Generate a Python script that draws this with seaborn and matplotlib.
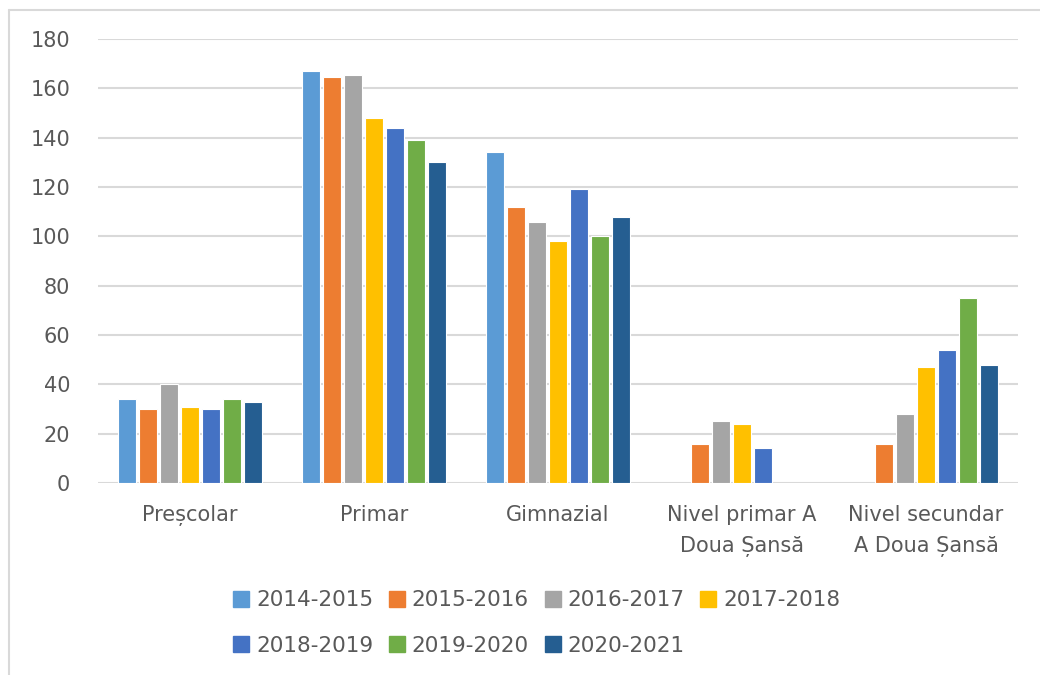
import pandas as pd
import numpy as np
import matplotlib
matplotlib.use('Agg')
import matplotlib.pyplot as plt
from matplotlib.lines import Line2D
import seaborn as sns

sns.set_theme(style='white')
plt.rcParams['font.family'] = ['DejaVu Sans']

categories = ['Preșcolar', 'Primar', 'Gimnazial',
              'Nivel primar A\nDoua Șansă', 'Nivel secundar\nA Doua Șansă']
years = ['2014-2015', '2015-2016', '2016-2017', '2017-2018',
         '2018-2019', '2019-2020', '2020-2021']

# values per school year, one entry per category (nan = no bar)
v_2014 = [34, 167, 134, np.nan, np.nan]
v_2015 = [30, 164.5, 112, 16, 16]
v_2016 = [40, 165.5, 106, 25, 28]
v_2017 = [31, 148, 98, 24, 47]
v_2018 = [30, 144, 119, 14, 54]
v_2019 = [34, 139, 100, np.nan, 75]
v_2020 = [33, 130, 108, np.nan, 48]

colors = ['#5B9BD5', '#ED7D31', '#A5A5A5', '#FFC000',
          '#4472C4', '#70AD47', '#255E91']

series = [v_2014, v_2015, v_2016, v_2017, v_2018, v_2019, v_2020]
rows = []
for yr, vals in zip(years, series):
    for cat, v in zip(categories, vals):
        rows.append({'categorie': cat, 'an': yr, 'valoare': v})
df = pd.DataFrame(rows)

fig = plt.figure(figsize=(10.4, 6.75), dpi=100)
ax = fig.add_axes([98 / 1040, 1 - 483 / 675, 920 / 1040, 444 / 675])

sns.barplot(data=df, x='categorie', y='valoare', hue='an', order=categories,
            hue_order=years, palette=colors, width=0.8, gap=0.18,
            edgecolor='white', linewidth=0.8, saturation=1, ax=ax, legend=False)

ax.set_ylim(0, 180)
ax.set_xlim(-0.5, 4.5)
ax.set_yticks(range(0, 181, 20))
ax.yaxis.grid(True, color='#D9D9D9', linewidth=1.5)
ax.set_axisbelow(True)
for s in ax.spines.values():
    s.set_visible(False)
ax.set_xlabel('')
ax.set_ylabel('')
ax.tick_params(axis='y', length=0, pad=20, labelsize=15, labelcolor='#595959')
ax.tick_params(axis='x', length=0, pad=16, labelsize=15, labelcolor='#595959')
for lbl in ax.get_xticklabels():
    lbl.set_linespacing(1.65)

# legend: first row 4 entries, second row 3
handles = [Line2D([0], [0], marker='s', linestyle='', markersize=11,
                  markerfacecolor=c, markeredgecolor=c) for c in colors]
order = [0, 4, 1, 5, 2, 6, 3]
fig.legend([handles[i] for i in order], [years[i] for i in order], ncol=4,
           loc='center', bbox_to_anchor=(537 / 1040, 1 - 623 / 675),
           frameon=False, fontsize=15.5, labelcolor='#595959',
           handlelength=0.7, handletextpad=0.35, columnspacing=0.75,
           labelspacing=1.2)

# chart border (left and top)
fig.add_artist(Line2D([9 / 1040, 9 / 1040], [0, 1 - 10 / 675],
                      color='#D9D9D9', linewidth=1.5, transform=fig.transFigure))
fig.add_artist(Line2D([9 / 1040, 1], [1 - 10 / 675, 1 - 10 / 675],
                      color='#D9D9D9', linewidth=1.5, transform=fig.transFigure))

plt.savefig('out.png', dpi=100)
